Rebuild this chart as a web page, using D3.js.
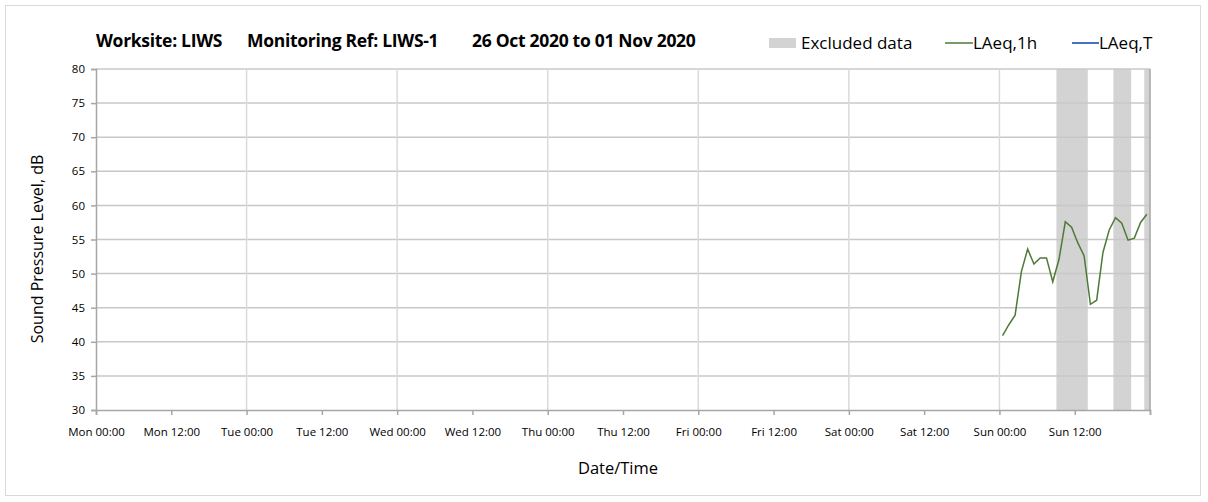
<!DOCTYPE html>
<html>
<head>
<meta charset="utf-8">
<script src="https://cdnjs.cloudflare.com/ajax/libs/d3/7.8.5/d3.min.js"></script>
<style>
  body { margin: 0; background: #fff; }
  text { font-family: "Open Sans", Lato, sans-serif; fill: #000; }
</style>
</head>
<body>
<div id="chart"></div>
<script>
// chart size
const width = 1208;
const height = 502;
const margin = {left: 96, right: 58, top: 69, bottom: 92};

// data
const titleParts = ["Worksite: LIWS", "Monitoring Ref: LIWS-1", "26 Oct 2020 to 01 Nov 2020"];
const weekStart = "2020-10-26 00:00";
const weekEnd = "2020-11-02 00:00";
const tickLabels = ["Mon 00:00", "Mon 12:00", "Tue 00:00", "Tue 12:00", "Wed 00:00", "Wed 12:00",
  "Thu 00:00", "Thu 12:00", "Fri 00:00", "Fri 12:00", "Sat 00:00", "Sat 12:00", "Sun 00:00", "Sun 12:00"];
const yTicks = [30, 35, 40, 45, 50, 55, 60, 65, 70, 75, 80];

const times = ["2020-11-01 00:30", "2020-11-01 01:30", "2020-11-01 02:30", "2020-11-01 03:30",
  "2020-11-01 04:30", "2020-11-01 05:30", "2020-11-01 06:30", "2020-11-01 07:30",
  "2020-11-01 08:30", "2020-11-01 09:30", "2020-11-01 10:30", "2020-11-01 11:30",
  "2020-11-01 12:30", "2020-11-01 13:30", "2020-11-01 14:30", "2020-11-01 15:30",
  "2020-11-01 16:30", "2020-11-01 17:30", "2020-11-01 18:30", "2020-11-01 19:30",
  "2020-11-01 20:30", "2020-11-01 21:30", "2020-11-01 22:30", "2020-11-01 23:30"];
const laeq1h = [40.9, 42.5, 43.9, 50.3, 53.6, 51.4, 52.3, 52.3, 48.8, 52.1, 57.6, 56.8,
  54.5, 52.6, 45.5, 46.1, 53.1, 56.4, 58.2, 57.4, 54.9, 55.2, 57.5, 58.7];

const excludedStart = ["2020-11-01 09:05", "2020-11-01 18:10", "2020-11-01 23:05"];
const excludedEnd = ["2020-11-01 14:05", "2020-11-01 21:00", "2020-11-02 00:00"];

const parse = d3.timeParse("%Y-%m-%d %H:%M");

const svg = d3.select("#chart").append("svg")
  .attr("width", width)
  .attr("height", height);

// outer frame
svg.append("rect")
  .attr("x", 5.5).attr("y", 5.5)
  .attr("width", 1195).attr("height", 490)
  .attr("fill", "none")
  .attr("stroke", "#d9d9d9")
  .attr("stroke-width", 1);

const x = d3.scaleTime()
  .domain([parse(weekStart), parse(weekEnd)])
  .range([margin.left, width - margin.right]);

const y = d3.scaleLinear()
  .domain([30, 80])
  .range([height - margin.bottom, margin.top]);

const tickDates = d3.timeHour.every(12).range(parse(weekStart), parse(weekEnd));

// excluded bands
svg.append("g").selectAll("rect")
  .data(excludedStart.map((s, i) => [parse(s), parse(excludedEnd[i])]))
  .join("rect")
  .attr("x", d => x(d[0]))
  .attr("width", d => x(d[1]) - x(d[0]))
  .attr("y", y(80))
  .attr("height", y(30) - y(80))
  .attr("fill", "#d3d3d3");

// horizontal gridlines
svg.append("g").selectAll("line")
  .data(yTicks.slice(1))
  .join("line")
  .attr("x1", x.range()[0]).attr("x2", x.range()[1])
  .attr("y1", d => y(d)).attr("y2", d => y(d))
  .attr("stroke", "#c8c8c8")
  .attr("stroke-width", 1.5);

// vertical gridlines at midnight
svg.append("g").selectAll("line")
  .data(tickDates.filter(d => d.getHours() === 0).slice(1))
  .join("line")
  .attr("x1", d => x(d)).attr("x2", d => x(d))
  .attr("y1", y(30)).attr("y2", y(80))
  .attr("stroke", "#dadada")
  .attr("stroke-width", 1.5);

// right border of plot
svg.append("line")
  .attr("x1", x.range()[1]).attr("x2", x.range()[1])
  .attr("y1", y(30)).attr("y2", y(80))
  .attr("stroke", "#a6a6a6").attr("stroke-width", 1.5);

// x axis
const xAxis = svg.append("g")
  .attr("transform", `translate(0,${y(30)})`)
  .call(d3.axisBottom(x)
    .tickValues(tickDates.concat([parse(weekEnd)]))
    .tickSize(5)
    .tickFormat((d, i) => tickLabels[i] || ""));
xAxis.select(".domain").attr("stroke", "#a6a6a6").attr("stroke-width", 1.5);
xAxis.selectAll(".tick line").attr("stroke", "#a6a6a6").attr("stroke-width", 1.5);
xAxis.selectAll(".tick text").attr("font-size", 11.5).attr("dy", "1.55em");

// y axis
const yAxis = svg.append("g")
  .attr("transform", `translate(${x.range()[0]},0)`)
  .call(d3.axisLeft(y).tickValues(yTicks).tickSize(5).tickPadding(6));
yAxis.select(".domain").attr("stroke", "#a6a6a6").attr("stroke-width", 1.5);
yAxis.selectAll(".tick line").attr("stroke", "#a6a6a6").attr("stroke-width", 1.5);
yAxis.selectAll(".tick text").attr("font-size", 11.5);

// data line
const line = d3.line()
  .x((d, i) => x(parse(times[i])))
  .y(d => y(d));

svg.append("path")
  .datum(laeq1h)
  .attr("d", line)
  .attr("fill", "none")
  .attr("stroke", "#4e7a36")
  .attr("stroke-width", 1.5);

// title, three parts
const titleX = [96, 247, 472];
svg.append("g").selectAll("text")
  .data(titleParts)
  .join("text")
  .attr("x", (d, i) => titleX[i])
  .attr("y", 47)
  .attr("font-size", 17.5)
  .attr("font-weight", "bold")
  .attr("letter-spacing", -0.3)
  .text(d => d);

// axis titles
svg.append("text")
  .attr("x", 618)
  .attr("y", 474)
  .attr("text-anchor", "middle")
  .attr("font-size", 16.5)
  .attr("fill", "#262626")
  .text("Date/Time");

svg.append("text")
  .attr("transform", `translate(43,249) rotate(-90)`)
  .attr("text-anchor", "middle")
  .attr("font-size", 16)
  .text("Sound Pressure Level, dB");

// legend
const legend = svg.append("g");
legend.append("rect")
  .attr("x", 769).attr("y", 38).attr("width", 27).attr("height", 10)
  .attr("fill", "#d3d3d3");
legend.append("text").attr("x", 801).attr("y", 49).attr("font-size", 17).text("Excluded data");
legend.append("line")
  .attr("x1", 945).attr("x2", 973).attr("y1", 43).attr("y2", 43)
  .attr("stroke", "#4e7a36").attr("stroke-width", 1.5);
legend.append("text").attr("x", 973).attr("y", 49).attr("font-size", 17).text("LAeq,1h");
legend.append("line")
  .attr("x1", 1072).attr("x2", 1099).attr("y1", 43).attr("y2", 43)
  .attr("stroke", "#4472c4").attr("stroke-width", 2);
legend.append("text").attr("x", 1099).attr("y", 49).attr("font-size", 17).text("LAeq,T");
</script>
</body>
</html>
